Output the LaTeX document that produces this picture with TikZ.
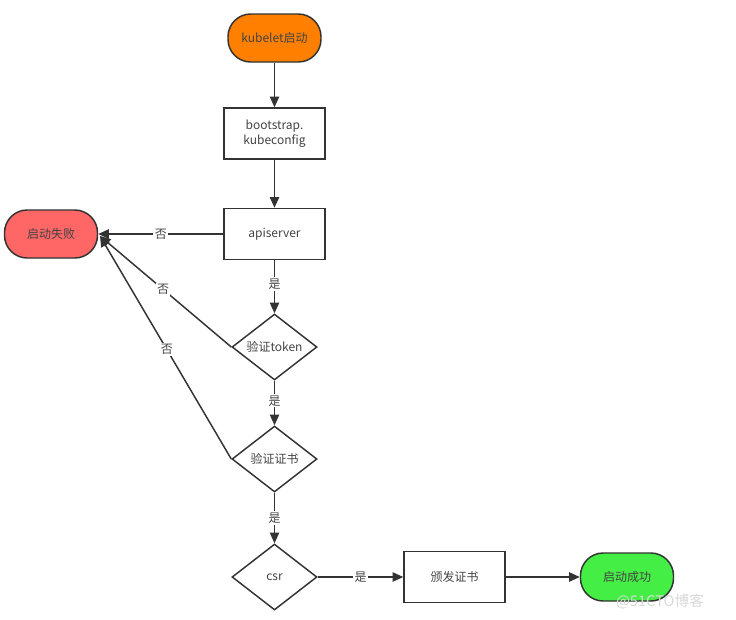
\documentclass[tikz,border=0pt]{standalone}
\usepackage{fontspec}
\setmainfont{Noto Sans CJK SC}
\usetikzlibrary{shapes.geometric,arrows.meta}
\definecolor{linec}{HTML}{333333}
\definecolor{txt}{HTML}{444444}
\definecolor{orangef}{HTML}{FF8000}
\definecolor{redf}{HTML}{FF6666}
\definecolor{greenf}{HTML}{44EE44}
\tikzset{
  base/.style={draw=linec, line width=1.1pt, text=txt, font=\fontsize{9}{11}\selectfont, align=center, inner sep=0pt},
  term/.style={base, rounded corners=17pt, minimum width=69.75pt, minimum height=36pt},
  boxn/.style={base, rectangle, minimum width=75.75pt, minimum height=38.25pt},
  dec/.style={base, diamond, minimum width=63.75pt, minimum height=49.5pt, aspect=1.29},
  conn/.style={draw=linec, line width=1.1pt, -{Triangle[length=8pt,width=7pt]}},
  lab/.style={fill=white, text=txt, font=\fontsize{9}{11}\selectfont, inner sep=1pt}
}
\begin{document}
\begin{tikzpicture}[x=0.75pt,y=-0.75pt]
\useasboundingbox (0,0) rectangle (736,619);
\fill[white] (0,0) rectangle (736,619);
\node[term, fill=orangef] (start) at (274.5,38) {kubelet启动};
\node[boxn] (boot) at (274.5,133.5) {bootstrap.\\kubeconfig};
\node[boxn] (api) at (274.5,234) {apiserver};
\node[term, fill=redf] (fail) at (51,234) {启动失败};
\node[dec] (tok) at (274.5,347) {验证token};
\node[dec] (cert) at (274.5,459) {验证证书};
\node[dec] (csr) at (274.5,577) {csr};
\node[boxn] (issue) at (454.5,577) {颁发证书};
\node[term, fill=greenf] (ok) at (627,577) {启动成功};
\coordinate (failin) at (100,236);
\draw[conn] (start) -- (boot);
\draw[conn] (boot) -- (api);
\draw[conn] (api) -- node[lab] {否} (fail);
\draw[conn] (api) -- node[lab, pos=0.45] {是} (tok);
\draw[conn] (tok.west) -- node[lab, pos=0.52] {否} (failin);
\draw[conn] (tok) -- node[lab, pos=0.45] {是} (cert);
\draw[conn] (cert.west) -- node[lab, pos=0.49] {否} (failin);
\draw[conn] (cert) -- node[lab, pos=0.5] {是} (csr);
\draw[conn] (csr) -- node[lab, pos=0.5] {是} (issue);
\draw[conn] (issue) -- (ok);
\node[text=black!15, font=\fontsize{11}{13}\selectfont, anchor=center] (wm) at (660,602) {@51CTO博客};
\end{tikzpicture}
\end{document}
